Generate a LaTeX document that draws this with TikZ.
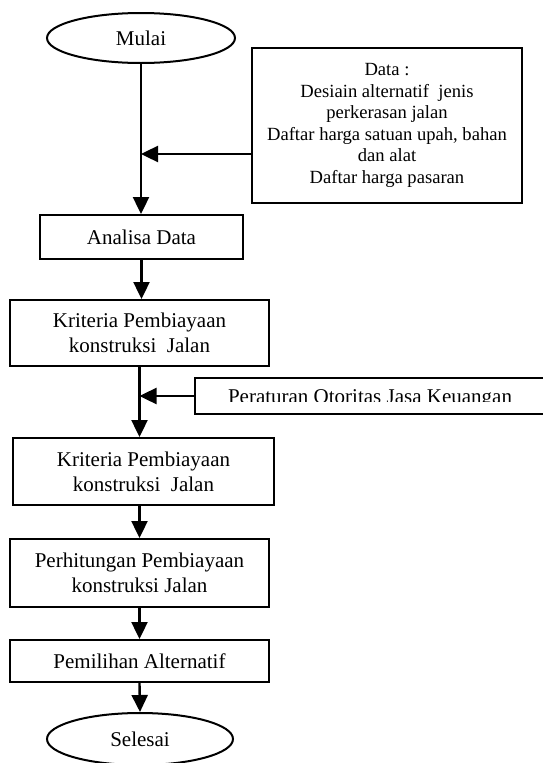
\documentclass[tikz,border=0pt]{standalone}
\usepackage{fontspec}
\setmainfont{Liberation Serif}
\usetikzlibrary{shapes.geometric,arrows.meta}
\begin{document}
\begin{tikzpicture}[x=1pt,y=-1pt,
  box/.style={draw,line width=2pt,rectangle,inner sep=0pt,align=center,font=\fontsize{21}{25}\selectfont},
  oval/.style={draw,line width=2pt,ellipse,inner sep=0pt,font=\fontsize{21}{25}\selectfont},
  flow/.style={line width=2.4pt,-{Triangle[width=16pt,length=17pt]}}]
\useasboundingbox (0,0) rectangle (543,763);
\clip (0,0) rectangle (543,763);
\node[oval,minimum width=188pt,minimum height=50pt] (mulai) at (141,38) {Mulai};
\node[box,minimum width=270pt,minimum height=155pt,font=\fontsize{18.6}{21.6}\selectfont] (data) at (387,125.5)
  {Data :\\Desiain alternatif\ \ jenis\\perkerasan jalan\\Daftar harga satuan upah, bahan\\dan alat\\Daftar harga pasaran};
\node[box,minimum width=203pt,minimum height=44pt] (analisa) at (141.5,237) {Analisa Data};
\node[box,minimum width=259pt,minimum height=66pt] (krit1) at (139.5,333) {Kriteria Pembiayaan\\konstruksi\ \ Jalan};
\node[draw,line width=2pt,rectangle,inner sep=0pt,minimum width=406pt,minimum height=36pt,anchor=north west] (aturan) at (194,377) {};
\begin{scope}
  \clip (194,380) rectangle (543,401);
  \node[font=\fontsize{21}{25}\selectfont,anchor=base,inner sep=0pt] (aturantext) at (370,403) {Peraturan Otoritas Jasa Keuangan};
\end{scope}
\node[box,minimum width=261pt,minimum height=67pt] (krit2) at (143.5,471.5) {Kriteria Pembiayaan\\konstruksi\ \ Jalan};
\node[box,minimum width=259pt,minimum height=68pt] (hitung) at (139.5,573) {Perhitungan Pembiayaan\\konstruksi Jalan};
\node[box,minimum width=259pt,minimum height=42pt] (pilih) at (139.5,661) {Pemilihan Alternatif};
\node[oval,minimum width=186pt,minimum height=52pt] (selesai) at (140,739) {Selesai};
\coordinate (level1) at (0,154);
\coordinate (dataout) at (data.west |- level1);
\coordinate (j1) at (mulai.south |- level1);
\coordinate (j2) at (krit1.south |- aturan.west);
\draw[flow] (mulai.south) -- (mulai.south |- analisa.north);
\draw[flow] (dataout) -- (j1);
\draw[flow] (analisa.south) -- (analisa.south |- krit1.north);
\draw[flow] (krit1.south) -- (krit1.south |- krit2.north);
\draw[flow] (aturan.west) -- (j2);
\draw[flow] (krit2.south -| hitung.north) -- (hitung.north);
\draw[flow] (hitung.south) -- (pilih.north);
\draw[flow] (pilih.south) -- (selesai.north);
\end{tikzpicture}
\end{document}
